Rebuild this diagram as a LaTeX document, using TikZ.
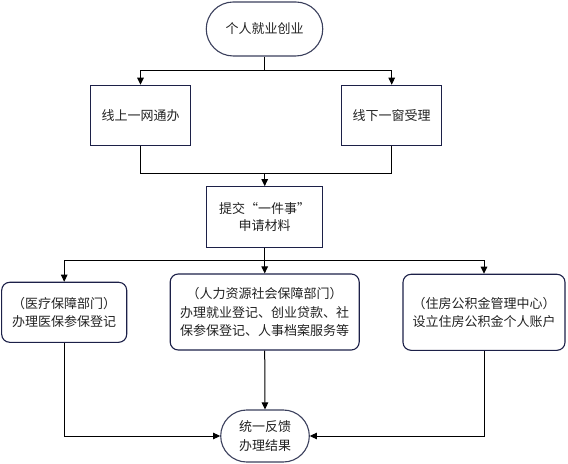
\documentclass[tikz,border=0pt]{standalone}
\usepackage{fontspec}
\setmainfont{Noto Sans CJK SC}
\usetikzlibrary{arrows.meta}
\definecolor{boxline}{HTML}{1C2048}
\definecolor{capline}{HTML}{3A3F5C}
\definecolor{txt}{HTML}{222222}
\tikzset{
  base/.style={align=center, text=txt, font=\fontsize{13bp}{18.5bp}\selectfont, inner sep=0pt, line width=1.1bp},
  terminal/.style={base, draw=capline},
  rectbox/.style={base, draw=boxline},
  roundbox/.style={base, draw=boxline, rounded corners=8bp},
  conn/.style={draw=black, line width=1bp},
  arr/.style={conn, -{Triangle[width=6.5bp,length=7bp]}},
}
\begin{document}
\begin{tikzpicture}[x=1bp,y=-1bp]
\useasboundingbox (0,0) rectangle (568,464);
\node[terminal, rounded corners=27bp, minimum width=116.5bp, minimum height=54bp] (top) at (264.5,29) {个人就业创业};
\node[rectbox, minimum width=100bp, minimum height=60bp] (A) at (140.5,115.3) {线上一网通办};
\node[rectbox, minimum width=100bp, minimum height=60bp] (B) at (391.7,115.3) {线下一窗受理};
\node[rectbox, minimum width=116bp, minimum height=60.5bp, font=\fontsize{13bp}{17.6bp}\selectfont] (C) at (264.7,217) {提交“一件事”\\申请材料};
\node[roundbox, minimum width=125bp, minimum height=60bp] (D) at (64.2,312.3) {（医疗保障部门）\\办理医保参保登记};
\node[roundbox, minimum width=189bp, minimum height=76bp] (E) at (264.7,312) {（人力资源社会保障部门）\\办理就业登记、创业贷款、社\\保参保登记、人事档案服务等};
\node[roundbox, minimum width=162bp, minimum height=76bp] (F) at (484,312.3) {（住房公积金管理中心）\\设立住房公积金个人账户};
\node[terminal, rounded corners=26bp, minimum width=88.6bp, minimum height=52bp] (G) at (265,436) {统一反馈\\办理结果};
\coordinate (j1) at (264.5,70.5);
\coordinate (j2) at (264.7,173.3);
\coordinate (j3) at (264.7,260.7);
\draw[conn] (top.south) -- (top.south |- j1);
\draw[arr] (j1) -| (A.north);
\draw[arr] (j1) -| (B.north);
\draw[conn] (A.south) |- (j2);
\draw[conn] (B.south) |- (j2);
\draw[arr] (j2) -- (C.north);
\draw[conn] (C.south) -- (j3);
\draw[arr] (j3) -| (D.north);
\draw[arr] (j3) -| (F.north);
\draw[arr] (j3) -- (E.north);
\draw[arr] (E.south) -- (G.north);
\draw[arr] (D.south) |- (G.west);
\draw[arr] (F.south) |- (G.east);
\end{tikzpicture}
\end{document}
